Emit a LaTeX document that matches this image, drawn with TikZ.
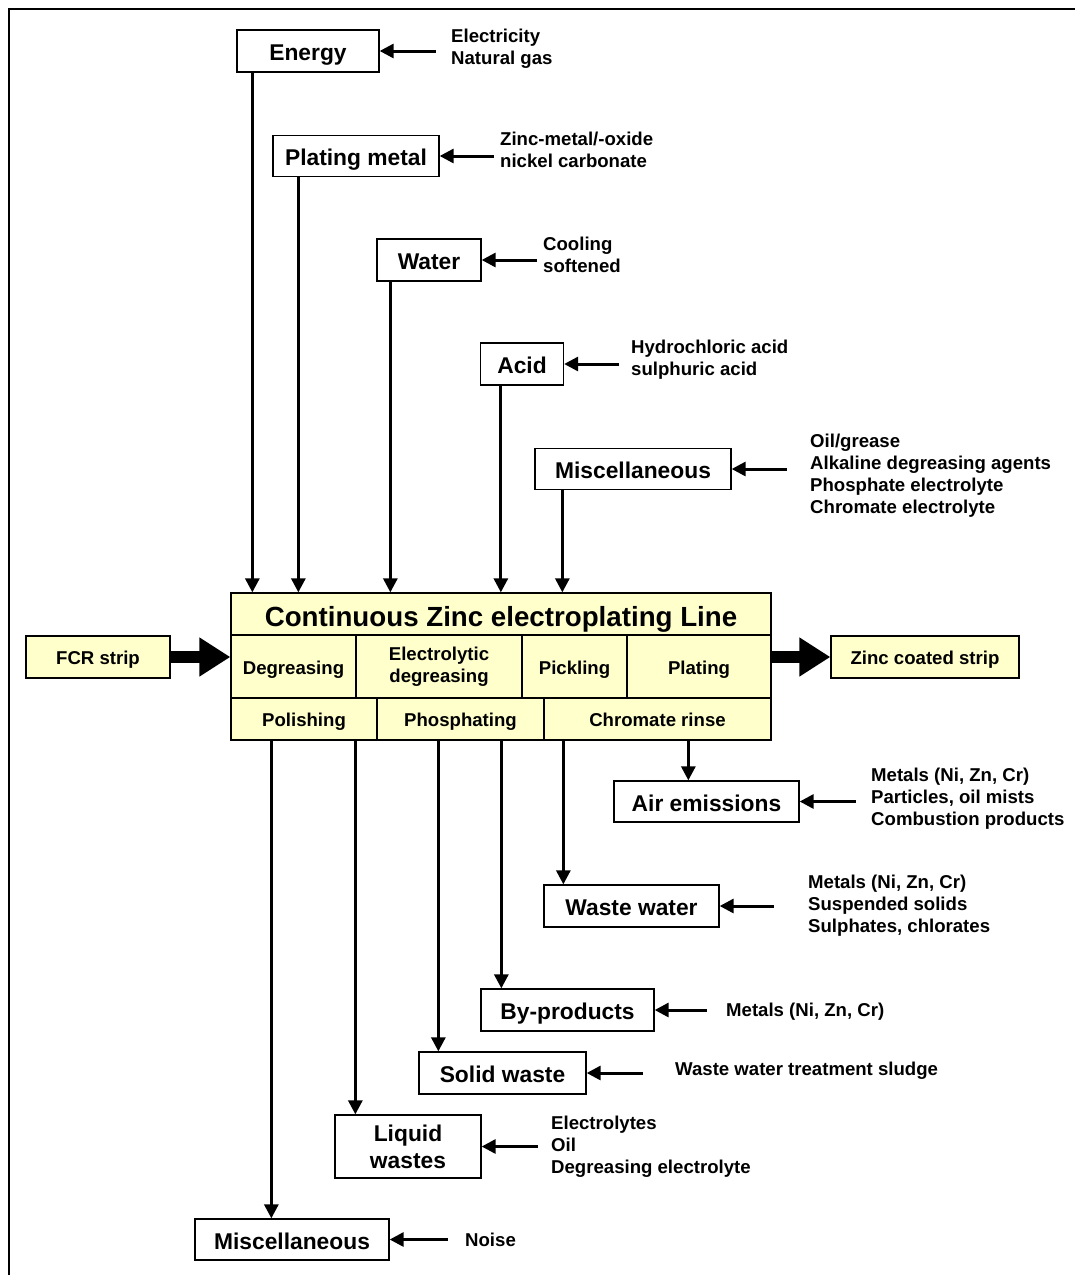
\documentclass[tikz,border=0pt]{standalone}
\usepackage{fontspec}
\setmainfont{Liberation Sans}
\usetikzlibrary{arrows.meta}
\definecolor{pyellow}{HTML}{FFFFCC}

\begin{document}
\begin{tikzpicture}[
  x=1pt,y=-1pt,
  box/.style={draw=black,line width=1.3pt,fill=white,inner sep=0pt,
    text height=19pt,text depth=0pt,font=\fontsize{22.8}{27}\selectfont\bfseries},
  cell/.style={draw=black,line width=1.3pt,fill=pyellow,inner sep=0pt,
    text height=15pt,text depth=0pt,font=\fontsize{18.6}{22}\selectfont\bfseries},
  twoline/.style={align=center,text height=,text depth=},
  note/.style={anchor=west,inner sep=0pt,align=left,
    font=\fontsize{18.6}{22}\selectfont\bfseries},
  arr/.style={-{Triangle[length=14pt,width=14pt]},line width=3pt},
  flow/.style={-{Triangle[length=31pt,width=37pt]},line width=12pt}
]
\useasboundingbox (0,0) rectangle (1075,1275);
\draw[line width=2.7pt] (9,1275) -- (9,9) -- (1075,9);

% Inputs above the line.
\node[box,minimum width=142,minimum height=42] (energy) at (308,51) {Energy};
\node[box,minimum width=166,minimum height=41] (platmet) at (356,156) {Plating metal};
\node[box,minimum width=104,minimum height=42] (water) at (429,260) {Water};
\node[box,minimum width=83,minimum height=42] (acid) at (522,364) {Acid};
\node[box,minimum width=196,minimum height=41] (miscin) at (633,469) {Miscellaneous};
\node[note] (energyin) at (451,49) {Electricity\\Natural gas};
\node[note] (metalin) at (500,150) {Zinc-metal/-oxide\\nickel carbonate};
\node[note] (waterin) at (543,255) {Cooling\\softened};
\node[note] (acidin) at (631,360) {Hydrochloric acid\\sulphuric acid};
\node[note] (miscnote) at (810,476) {Oil/grease\\Alkaline degreasing agents\\Phosphate electrolyte\\Chromate electrolyte};
\draw[arr] ([xshift=56]energy.east) -- (energy.east);
\draw[arr] ([xshift=54]platmet.east) -- (platmet.east);
\draw[arr] ([xshift=55]water.east) -- (water.east);
\draw[arr] ([xshift=55]acid.east) -- (acid.east);
\draw[arr] ([xshift=55]miscin.east) -- (miscin.east);

% The process line itself.
\node[cell,minimum width=540,minimum height=42,text height=24pt,
  font=\fontsize{27.7}{32}\selectfont\bfseries] (title) at (501,614)
  {Continuous Zinc electroplating Line};
\node[cell,minimum width=125,minimum height=63] (degr) at (293.5,666.5) {Degreasing};
\node[cell,twoline,minimum width=166,minimum height=63] (elec) at (439,666.5) {Electrolytic\\degreasing};
\node[cell,minimum width=105,minimum height=63] (pick) at (574.5,666.5) {Pickling};
\node[cell,minimum width=144,minimum height=63] (plat) at (699,666.5) {Plating};
\node[cell,minimum width=146,minimum height=42] (polish) at (304,719) {Polishing};
\node[cell,minimum width=167,minimum height=42] (phos) at (460.5,719) {Phosphating};
\node[cell,minimum width=227,minimum height=42] (chrom) at (657.5,719) {Chromate rinse};
\node[cell,minimum width=144,minimum height=42] (fcr) at (98,657) {FCR strip};
\node[cell,minimum width=188,minimum height=42] (zinc) at (925,657) {Zinc coated strip};
\draw[flow] (fcr.east) -- (degr.west |- fcr.east);
\draw[flow] (plat.east |- zinc.west) -- (zinc.west);

% Inputs feed the top of the line.
\draw[arr] ([xshift=16]energy.south west) -- ([xshift=16]energy.south west |- title.north);
\draw[arr] ([xshift=26]platmet.south west) -- ([xshift=26]platmet.south west |- title.north);
\draw[arr] ([xshift=14]water.south west) -- ([xshift=14]water.south west |- title.north);
\draw[arr] ([xshift=21]acid.south west) -- ([xshift=21]acid.south west |- title.north);
\draw[arr] ([xshift=28]miscin.south west) -- ([xshift=28]miscin.south west |- title.north);

% Outputs below the line.
\node[box,minimum width=185,minimum height=41] (air) at (706.5,801.5) {Air emissions};
\node[box,minimum width=175,minimum height=42] (wwater) at (631.5,906) {Waste water};
\node[box,minimum width=173,minimum height=42] (byprod) at (567.5,1010) {By-products};
\node[box,minimum width=167,minimum height=42] (solid) at (502.5,1073) {Solid waste};
\node[box,twoline,minimum width=146,minimum height=63] (liquid) at (408,1146.5) {Liquid\\wastes};
\node[box,minimum width=194,minimum height=41] (miscout) at (292,1239.5) {Miscellaneous};
\node[note] (airnote) at (871,799) {Metals (Ni, Zn, Cr)\\Particles, oil mists\\Combustion products};
\node[note] (wwnote) at (808,906) {Metals (Ni, Zn, Cr)\\Suspended solids\\Sulphates, chlorates};
\node[note] (bynote) at (726,1012) {Metals (Ni, Zn, Cr)};
\node[note] (solidnote) at (675,1071) {Waste water treatment sludge};
\node[note] (liqnote) at (551,1147) {Electrolytes\\Oil\\Degreasing electrolyte};
\node[note] (noisenote) at (465,1240) {Noise};
\draw[arr] ([xshift=56]air.east) -- (air.east);
\draw[arr] ([xshift=54]wwater.east) -- (wwater.east);
\draw[arr] ([xshift=52]byprod.east) -- (byprod.east);
\draw[arr] ([xshift=56]solid.east) -- (solid.east);
\draw[arr] ([xshift=56]liquid.east) -- (liquid.east);
\draw[arr] ([xshift=58]miscout.east) -- (miscout.east);

\draw[arr] ([xshift=145]chrom.south west) -- ([xshift=145]chrom.south west |- air.north);
\draw[arr] ([xshift=20]chrom.south west) -- ([xshift=20]chrom.south west |- wwater.north);
\draw[arr] ([xshift=125]phos.south west) -- ([xshift=125]phos.south west |- byprod.north);
\draw[arr] ([xshift=62]phos.south west) -- ([xshift=62]phos.south west |- solid.north);
\draw[arr] ([xshift=125]polish.south west) -- ([xshift=125]polish.south west |- liquid.north);
\draw[arr] ([xshift=41]polish.south west) -- ([xshift=41]polish.south west |- miscout.north);
\end{tikzpicture}
\end{document}
